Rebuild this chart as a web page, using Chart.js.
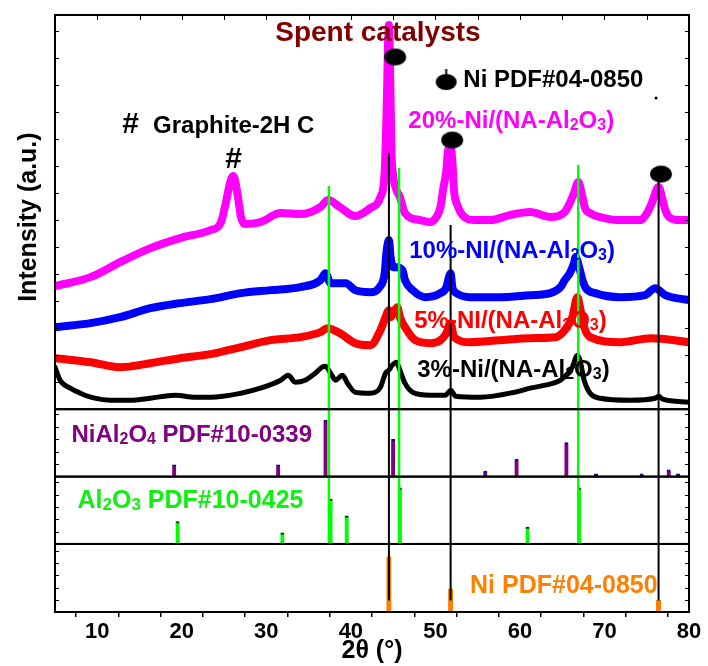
<!DOCTYPE html>
<html>
<head>
<meta charset="utf-8">
<script src="https://cdn.jsdelivr.net/npm/chart.js@4.4.1/dist/chart.umd.min.js"></script>
<style>
  html, body { margin: 0; padding: 0; background: #fff; }
  #wrap { width: 708px; height: 666px; }
</style>
</head>
<body>
<div id="wrap"><canvas id="xrd" width="708" height="666"></canvas></div>
<script>
var FONT = '"Liberation Sans", Arial, Helvetica, sans-serif';

// XRD scans: 2theta (deg) and intensity (a.u., stacking offset included)
var ni20Angle = [5, 9.2, 12.7, 16.3, 19.8, 23.4, 24.6, 25.2, 25.7, 26.1, 26.7, 27.0, 27.5, 29.3, 31.7, 34.0, 36.4, 37.3, 38.7, 40.5, 42.3, 43.5, 44.0, 44.2, 44.5, 44.7, 44.8, 45.0, 45.4, 45.8, 46.4, 48.2, 49.4, 50.1, 50.6, 50.9, 51.3, 51.5, 51.8, 52.0, 52.2, 52.6, 53.2, 54.7, 56.5, 58.8, 61.2, 63.6, 65.3, 65.9, 66.4, 66.9, 67.4, 67.7, 68.3, 69.5, 71.9, 74.2, 75.1, 75.6, 76.4, 76.8, 77.2, 77.8, 79.0, 80];
var ni20Int = [123, 132, 147, 161, 171, 179, 186, 206, 226, 233, 209, 192, 185, 187, 196, 195, 202, 209, 202, 193, 201, 212, 237, 289, 384, 309, 259, 234, 219, 212, 196, 189, 187, 192, 202, 219, 239, 259, 262, 249, 219, 204, 194, 189, 189, 194, 197, 192, 197, 206, 216, 227, 212, 201, 196, 192, 189, 189, 197, 206, 222, 212, 199, 191, 189, 189];

var ni10Angle = [5, 9.2, 12.7, 16.3, 19.8, 23.4, 27.0, 30.5, 34.0, 36.4, 37.0, 37.6, 39.4, 40.5, 42.3, 43.4, 44.0, 44.2, 44.5, 44.7, 45.0, 45.4, 46.1, 46.4, 47.3, 48.8, 50.6, 51.3, 51.6, 51.8, 52.0, 52.5, 54.1, 57.6, 61.2, 63.6, 64.8, 65.3, 65.9, 66.4, 66.6, 67.0, 67.4, 67.8, 68.9, 71.9, 74.8, 76.0, 77.2, 80];
var ni10Int = [82, 86, 92, 101, 106, 110, 116, 119, 122, 129, 136, 126, 126, 119, 117, 122, 136, 156, 169, 152, 142, 142, 139, 129, 119, 112, 116, 122, 132, 136, 122, 116, 112, 112, 114, 116, 122, 129, 136, 146, 152, 142, 129, 121, 116, 112, 114, 121, 114, 109];

var ni5Angle = [5, 9.2, 12.7, 16.3, 19.8, 23.4, 27.0, 30.5, 34.0, 36.4, 37.2, 38.7, 40.5, 42.3, 43.5, 44.1, 44.5, 44.7, 45.0, 45.5, 45.8, 46.4, 47.6, 49.4, 50.6, 51.3, 51.8, 52.2, 54.1, 57.6, 61.2, 64.2, 65.3, 66.2, 66.8, 67.1, 67.6, 68.3, 71.9, 75.5, 80];
var ni5Int = [51, 47, 42, 46, 51, 55, 62, 69, 72, 77, 81, 76, 66, 64, 79, 92, 99, 92, 96, 102, 92, 82, 69, 66, 69, 76, 86, 72, 67, 69, 71, 72, 79, 92, 112, 102, 82, 72, 67, 71, 67];

var ni3Angle = [5, 5.6, 6.8, 8.0, 9.7, 11.5, 13.9, 16.3, 19.2, 21.6, 23.4, 27.0, 29.3, 31.7, 32.6, 33.4, 34.6, 35.8, 36.6, 37.0, 37.6, 38.2, 39.0, 39.6, 40.5, 42.3, 43.5, 44.1, 44.5, 44.9, 45.4, 45.8, 46.4, 47.3, 49.4, 51.2, 51.8, 52.4, 55.3, 59.4, 61.2, 63.0, 64.8, 65.7, 66.2, 66.8, 67.1, 67.6, 68.3, 69.5, 73.0, 76.0, 76.4, 76.9, 80];
var ni3Int = [42, 29, 21, 16, 11, 9, 9, 11, 14, 12, 12, 16, 21, 29, 34, 27, 29, 36, 42, 43, 36, 29, 34, 26, 17, 16, 22, 36, 39, 44, 47, 39, 26, 17, 14, 14, 19, 13, 12, 17, 21, 24, 29, 36, 42, 54, 49, 29, 16, 11, 9, 11, 13, 10, 7];

// reference patterns (relative intensity)
var niAl2O4Angle = [19.1, 31.4, 37.0, 45.0, 55.9, 59.6, 65.5, 69.0, 74.4, 77.6, 78.7];
var niAl2O4Int = [21, 21, 100, 66, 10, 31, 60, 5, 5, 12, 5];
var al2o3Angle = [19.5, 31.9, 37.6, 39.5, 45.8, 60.9, 67.0];
var al2o3Int = [40, 20, 80, 50, 100, 30, 100];
var niAngle = [44.5, 51.8, 76.4];
var niInt = [100, 42, 21];

// guide lines through the panels, and peak markers
var niLineAngle = [44.5, 51.8, 76.4];
var niLineTop = [256, 184, 240];
var niLineEnd = 21;
var alLineAngle = [37.4, 45.7, 66.9];
var alLineTop = [223, 241, 244];
var markAngle = [45.25, 51.99, 76.69, 51.27, 76.1];
var markInt = [352, 269, 235, 329, 311];

var xTickLabels = [10, 20, 30, 40, 50, 60, 70, 80];

function pts(a, b) {
  return a.map(function (v, i) { return { x: v, y: b[i] }; });
}

function blob(w, h, stem) {
  var c = document.createElement('canvas');
  c.width = w + 2;
  c.height = h + 2 + stem;
  var g = c.getContext('2d');
  g.fillStyle = '#000';
  g.beginPath();
  g.ellipse(c.width / 2, stem + 1 + h / 2, w / 2, h / 2, 0, 0, Math.PI * 2);
  g.fill();
  if (stem) g.fillRect(c.width / 2 - 1, 0, 2, stem + 2);
  return c;
}

function curve(label, a, b, color, width) {
  return {
    label: label, data: pts(a, b), yAxisID: 'yMain',
    borderColor: color, borderWidth: width, pointRadius: 0,
    cubicInterpolationMode: 'monotone', borderJoinStyle: 'round', borderCapStyle: 'round',
    fill: false, order: 1
  };
}

function sticks(label, a, b, axis, color, cap, thick) {
  return {
    type: 'bar', label: label, data: pts(a, b), yAxisID: axis,
    backgroundColor: color, borderColor: cap,
    borderWidth: { top: 2, left: 0, right: 0, bottom: 0 }, borderSkipped: false,
    barThickness: thick, grouped: false, order: 2
  };
}

var notes = [
  { text: 'Spent catalysts', x: 31.05, y: 368, axis: 'yMain', size: 28, color: '#800000' },
  { text: 'Ni PDF#04-0850', x: 53.3, y: 322, axis: 'yMain', size: 24, color: '#000' },
  { text: '20%-Ni/(NA-Al_2O_3)', x: 46.8, y: 281, axis: 'yMain', size: 24, color: '#ff00ff' },
  { text: '10%-NI/(NA-Al_2O_3)', x: 46.9, y: 151, axis: 'yMain', size: 24, color: '#0000ff' },
  { text: '5%-NI/(NA-Al_2O_3)', x: 47.5, y: 81, axis: 'yMain', size: 24, color: '#ff0000' },
  { text: '3%-Ni/(NA-Al_2O_3)', x: 47.85, y: 32, axis: 'yMain', size: 24, color: '#000' },
  { text: '#', x: 12.95, y: 276, axis: 'yMain', size: 30, color: '#000' },
  { text: 'Graphite-2H C', x: 16.6, y: 276, axis: 'yMain', size: 24, color: '#000' },
  { text: '#', x: 25.15, y: 241, axis: 'yMain', size: 30, color: '#000' },
  { text: 'NiAl_2O_4 PDF#10-0339', x: 6.95, y: 61.8, axis: 'yNiAl', size: 24, color: '#800080' },
  { text: 'Al_2O_3 PDF#10-0425', x: 7.66, y: 63.7, axis: 'yAl', size: 25, color: '#11ee11' },
  { text: 'Ni PDF#04-0850', x: 54.1, y: 33.8, axis: 'yNi', size: 25, color: '#ff8000' }
];

function richText(ctx, str, x, y, size, color) {
  ctx.fillStyle = color;
  ctx.textAlign = 'left';
  ctx.textBaseline = 'alphabetic';
  var parts = str.split('_');
  parts.forEach(function (p, i) {
    var segs = i === 0 ? [[p, false]] : [[p.charAt(0), true], [p.slice(1), false]];
    segs.forEach(function (s) {
      if (!s[0]) return;
      var sz = s[1] ? Math.round(size * 0.68) : size;
      ctx.font = 'bold ' + sz + 'px ' + FONT;
      ctx.fillText(s[0], x, y + (s[1] ? 2 : 0));
      x += ctx.measureText(s[0]).width;
    });
  });
}

var panelIds = ['yMain', 'yNiAl', 'yAl', 'yNi'];
var panelSteps = { yMain: 27, yNiAl: 22, yAl: 22, yNi: 22 };

function drawGuides(chart) {
  var ctx = chart.ctx, x = chart.scales.x;
  var yM = chart.scales.yMain, yAl = chart.scales.yAl, yNi = chart.scales.yNi;
  ctx.save();
  ctx.strokeStyle = '#00ff00';
  ctx.lineWidth = 2.5;
  alLineAngle.forEach(function (a, i) {
    var px = x.getPixelForValue(a);
    ctx.beginPath();
    ctx.moveTo(px, yM.getPixelForValue(alLineTop[i]));
    ctx.lineTo(px, yAl.getPixelForValue(0));
    ctx.stroke();
  });
  ctx.strokeStyle = '#000';
  ctx.lineWidth = 2;
  niLineAngle.forEach(function (a, i) {
    var px = x.getPixelForValue(a);
    ctx.beginPath();
    ctx.moveTo(px, yM.getPixelForValue(niLineTop[i]));
    ctx.lineTo(px, yNi.getPixelForValue(niLineEnd));
    ctx.stroke();
  });
  ctx.restore();
}

function drawFrames(chart) {
  var ctx = chart.ctx, ca = chart.chartArea, x = chart.scales.x;
  ctx.save();
  ctx.strokeStyle = '#000';
  ctx.lineWidth = 1;
  panelIds.forEach(function (id) {
    var s = chart.scales[id];
    for (var v = panelSteps[id]; v < s.max; v += panelSteps[id]) {
      var py = Math.round(s.getPixelForValue(v)) + 0.5;
      ctx.beginPath();
      ctx.moveTo(ca.left, py); ctx.lineTo(ca.left + 4, py);
      ctx.moveTo(ca.right, py); ctx.lineTo(ca.right - 4, py);
      ctx.stroke();
    }
  });
  for (var d = 10; d < 80; d += 5) {
    var px = Math.round(x.getPixelForValue(d)) + 0.5;
    ctx.beginPath();
    ctx.moveTo(px, ca.top); ctx.lineTo(px, ca.top + 5);
    ctx.stroke();
  }
  ctx.lineWidth = 2;
  panelIds.forEach(function (id) {
    var s = chart.scales[id];
    ctx.strokeRect(ca.left, s.top, ca.right - ca.left, s.bottom - s.top);
  });
  ctx.restore();
}

function drawNotes(chart) {
  var ctx = chart.ctx, x = chart.scales.x, yM = chart.scales.yMain;
  ctx.save();
  notes.forEach(function (n) {
    richText(ctx, n.text, x.getPixelForValue(n.x), chart.scales[n.axis].getPixelForValue(n.y), n.size, n.color);
  });
  ctx.translate(chart.chartArea.left - 26, (yM.top + yM.bottom) / 2 + 5);
  ctx.rotate(-Math.PI / 2);
  ctx.font = 'bold 25px ' + FONT;
  ctx.fillStyle = '#000';
  ctx.textAlign = 'center';
  ctx.textBaseline = 'middle';
  ctx.fillText('Intensity (a.u.)', 0, 0);
  ctx.restore();
}

var framePlugin = {
  id: 'xrdFrame',
  beforeDatasetsDraw: function (chart) { chart.$guides = false; },
  beforeDatasetDraw: function (chart, args) {
    if (args.meta.type === 'scatter' && !chart.$guides) {
      drawGuides(chart);
      chart.$guides = true;
    }
  },
  afterDatasetsDraw: function (chart) {
    if (!chart.$guides) drawGuides(chart);
    drawFrames(chart);
  },
  afterDraw: function (chart) { drawNotes(chart); }
};

var big = blob(22, 17, 0);
var legendDot = blob(21, 16, 4);

var ctx = document.getElementById('xrd');
new Chart(ctx, {
  type: 'line',
  data: {
    datasets: [
      curve('20%-Ni/(NA-Al2O3)', ni20Angle, ni20Int, '#ff00ff', 8),
      curve('10%-Ni/(NA-Al2O3)', ni10Angle, ni10Int, '#0000ff', 8),
      curve('5%-Ni/(NA-Al2O3)', ni5Angle, ni5Int, '#ff0000', 8),
      curve('3%-Ni/(NA-Al2O3)', ni3Angle, ni3Int, '#000000', 5),
      sticks('NiAl2O4', niAl2O4Angle, niAl2O4Int, 'yNiAl', '#800080', '#1a0a70', 4),
      sticks('Al2O3', al2o3Angle, al2o3Int, 'yAl', '#00ff00', '#0a300a', 4),
      sticks('Ni', niAngle, niInt, 'yNi', '#ff8000', '#ff8000', 5),
      {
        type: 'scatter', label: 'Ni peaks', data: pts(markAngle, markInt), yAxisID: 'yMain',
        pointStyle: [big, big, big, legendDot, 'circle'],
        pointRadius: [11, 11, 11, 11, 1.5],
        backgroundColor: '#000', borderColor: '#000', borderWidth: 0, order: 0
      }
    ]
  },
  options: {
    responsive: false,
    animation: false,
    devicePixelRatio: 1,
    layout: { padding: { left: 55, right: 19, top: 15, bottom: 0 } },
    plugins: { legend: { display: false }, tooltip: { enabled: false } },
    scales: {
      x: {
        type: 'linear', min: 5, max: 80, offset: false,
        ticks: {
          stepSize: 5, autoSkip: false, maxRotation: 0, padding: 2, color: '#000',
          font: { family: FONT, size: 22, weight: 'bold' },
          callback: function (v) { return xTickLabels.indexOf(v) >= 0 ? v : ''; }
        },
        grid: { drawOnChartArea: false, drawTicks: true, tickLength: 5, color: '#000', lineWidth: 1.5 },
        border: { display: true, color: '#000', width: 2 },
        title: {
          display: true, text: '2θ (°)', color: '#000',
          font: { family: FONT, size: 25, weight: 'bold' }, padding: { top: 0, bottom: 0 }
        },
        afterFit: function (s) { s.height = 54; }
      },
      yMain: { type: 'linear', position: 'left', stack: 'xrd', stackWeight: 394, weight: 4, min: 0, max: 394, display: false },
      yNiAl: { type: 'linear', position: 'left', stack: 'xrd', stackWeight: 67.4, weight: 3, min: 0, max: 119, display: false },
      yAl: { type: 'linear', position: 'left', stack: 'xrd', stackWeight: 67.3, weight: 2, min: 0, max: 120, display: false },
      yNi: { type: 'linear', position: 'left', stack: 'xrd', stackWeight: 68, weight: 1, min: 0, max: 123, display: false }
    }
  },
  plugins: [framePlugin]
});
</script>
</body>
</html>
